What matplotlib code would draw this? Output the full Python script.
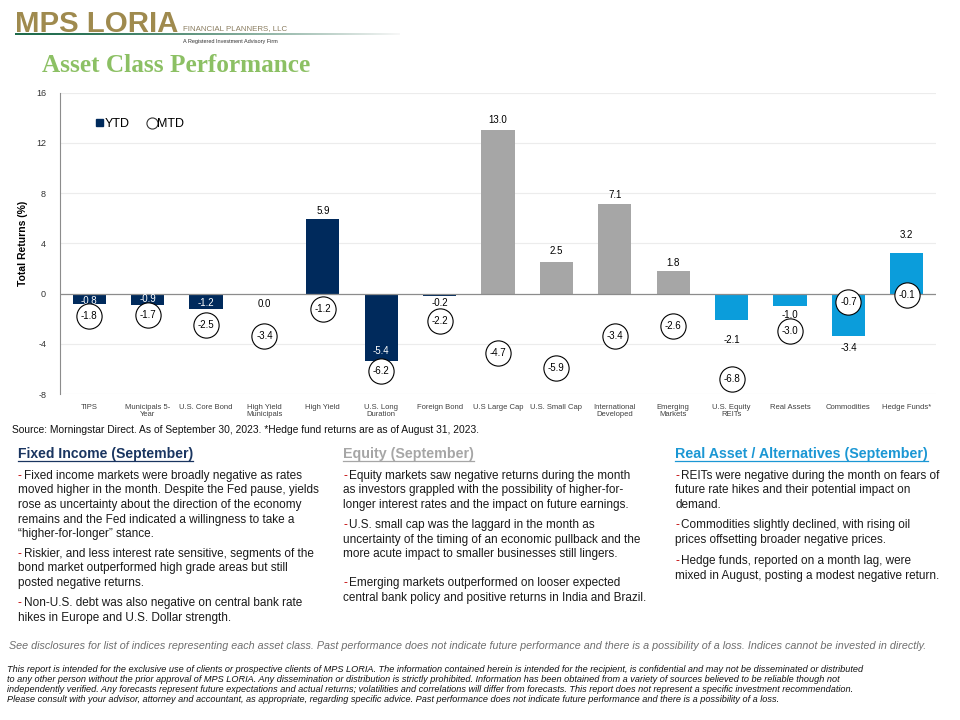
import matplotlib
matplotlib.use("Agg")
import matplotlib.pyplot as plt
from matplotlib.lines import Line2D
from matplotlib.patches import Patch
import numpy as np

plt.rcParams["font.family"] = ["Liberation Sans", "DejaVu Sans"]

CATEGORIES = ["TIPS", "Municipals 5-\nYear", "U.S. Core Bond", "High Yield\nMunicipals",
              "High Yield", "U.S. Long\nDuration", "Foreign Bond", "U.S Large Cap",
              "U.S. Small Cap", "International\nDeveloped", "Emerging\nMarkets",
              "U.S. Equity\nREITs", "Real Assets", "Commodities", "Hedge Funds*"]
YTD = [-0.8, -0.9, -1.2, 0.0, 5.9, -5.4, -0.2, 13.0, 2.5, 7.1, 1.8, -2.1, -1.0, -3.4, 3.2]
MTD = [-1.8, -1.7, -2.5, -3.4, -1.2, -6.2, -2.2, -4.7, -5.9, -3.4, -2.6, -6.8, -3.0, -0.7, -0.1]
GROUPS = ["fixed"] * 7 + ["equity"] * 4 + ["real"] * 4
Y_TICKS = [-8, -4, 0, 4, 8, 12, 16]

NAVY = "#002a5c"
GRAY = "#a6a6a6"
BLUE = "#0b9ddb"
GROUP_COLORS = {"fixed": NAVY, "equity": GRAY, "real": BLUE}

# label shift (pixels) from bar end, + means further out from the bar end
LABEL_SHIFT = [-3, -6, -6, 10, 8, -10, 7, 10, 11, 9, 8, 20, 9, 12, 18]

W, H = 960, 720
fig = plt.figure(figsize=(9.6, 7.2), dpi=100)


def fx(px):
    return px / W


def fy(py):
    return 1 - py / H


texts_fit = []  # (text, target width px, max fontsize)

# ---- header / logo
grad = fig.add_axes([fx(15), fy(35), fx(385), 2.2 / H])
g = np.linspace(0, 1, 256)
rgba = np.zeros((1, 256, 4))
rgba[0, :, 0] = 0.12 + 0.85 * g ** 1.5
rgba[0, :, 1] = 0.42 + 0.55 * g ** 1.5
rgba[0, :, 2] = 0.30 + 0.67 * g ** 1.5
rgba[0, :, 3] = 1.0
grad.imshow(rgba, aspect="auto")
grad.axis("off")

logo = fig.text(fx(15), fy(32), "MPS LORIA", fontsize=20, fontweight="bold", color="#9f8a4e",
                va="baseline", ha="left")
texts_fit.append((logo, 163, 30))
fp = fig.text(fx(183), fy(29), "FINANCIAL PLANNERS, LLC", fontsize=6.3, color="#8a7d60",
              va="center", ha="left")
texts_fit.append((fp, 104, 9))
fig.text(fx(183), fy(42), "A Registered Investment Advisory Firm", fontsize=4.0,
         color="#333333", va="center", ha="left")
title = fig.text(fx(42), fy(66), "Asset Class Performance", fontsize=18, fontweight="bold",
                 color="#8cc064", family="Liberation Serif", va="center", ha="left")
texts_fit.append((title, 268, 22))

# ---- chart
ax = fig.add_axes([fx(60), fy(394), fx(936 - 60), (394 - 92.5) / H])
x = np.arange(len(CATEGORIES))
colors = [GROUP_COLORS[g] for g in GROUPS]
ax.bar(x, YTD, width=0.57, color=colors, zorder=2)

for i, (v, m) in enumerate(zip(YTD, MTD)):
    inside = GROUPS[i] == "fixed" and v < -0.5
    sign = 1 if v > 0 else -1
    shift = LABEL_SHIFT[i] * sign
    ax.annotate(f"{v:.1f}", (i, v), xytext=(0, shift), textcoords="offset pixels",
                ha="center", va="center", fontsize=7,
                color="white" if inside else "black", zorder=4)
    ax.scatter([i], [m], s=330, facecolor="white", edgecolor="black", linewidth=0.8, zorder=5)
    ax.text(i, m, f"{m:.1f}", ha="center", va="center", fontsize=7, zorder=6)

ax.set_xlim(-0.5, 14.5)
ax.set_ylim(-8, 16)
ax.set_yticks(Y_TICKS)
ax.set_yticklabels([str(t) for t in Y_TICKS])
ax.set_xticks(x)
ax.set_xticklabels(CATEGORIES, fontsize=5.5, color="#404040", linespacing=1.1)
ax.tick_params(axis="both", length=0)
ax.tick_params(axis="y", labelsize=6.5, pad=10, colors="#333333")
ax.tick_params(axis="x", pad=7)
for t in Y_TICKS:
    if t != 0:
        ax.axhline(t, color="#ececec", lw=0.8, zorder=0)
ax.axhline(0, color="#8c8c8c", lw=0.9, zorder=3)
for s in ["top", "right", "bottom"]:
    ax.spines[s].set_visible(False)
ax.spines["left"].set_color("#8c8c8c")
ax.spines["left"].set_linewidth(0.8)
ax.set_ylabel("Total Returns (%)", fontsize=7.5, fontweight="bold", labelpad=6)

handles = [Patch(facecolor=NAVY, edgecolor=NAVY),
           Line2D([], [], marker="o", ls="", mfc="white", mec="#333333", ms=8, mew=0.8)]
ax.legend(handles, ["YTD", "MTD"], loc="center left", bbox_to_anchor=(0.028, 0.896),
          ncol=2, frameon=False, fontsize=9, handlelength=0.55, handleheight=0.55,
          handletextpad=0.15, columnspacing=1.5)

# ---- source and commentary
src = fig.text(fx(12), fy(430), "Source: Morningstar Direct. As of September 30, 2023. "
               "*Hedge fund returns are as of August 31, 2023.", fontsize=6.5,
               va="center", ha="left", color="#111111")
texts_fit.append((src, 466, 8))

HEADERS = ["Fixed Income (September)", "Equity (September)", "Real Asset / Alternatives (September)"]
HEADER_COLORS = ["#1a3560", "#a6a6a6", "#1b97d4"]
HEADER_WIDTH = [175, 131, 252]
COL_X = [18, 343, 675]
PARAGRAPHS = [
    [(476, ["Fixed income markets were broadly negative as rates",
            "moved higher in the month. Despite the Fed pause, yields",
            "rose as uncertainty about the direction of the economy",
            "remains and the Fed indicated a willingness to take a",
            "\u201chigher-for-longer\u201d stance."]),
     (554, ["Riskier, and less interest rate sensitive, segments of the",
            "bond market outperformed high grade areas but still",
            "posted negative returns."]),
     (603, ["Non-U.S. debt was also negative on central bank rate",
            "hikes in Europe and U.S. Dollar strength."])],
    [(476, ["Equity markets saw negative returns during the month",
            "as investors grappled with the possibility of higher-for-",
            "longer interest rates and the impact on future earnings."]),
     (525, ["U.S. small cap was the laggard in the month as",
            "uncertainty of the timing of an economic pullback and the",
            "more acute impact to smaller businesses still lingers."]),
     (583, ["Emerging markets outperformed on looser expected",
            "central bank policy and positive returns in India and Brazil."])],
    [(476, ["REITs were negative during the month on fears of",
            "future rate hikes and their potential impact on",
            "demand."]),
     (525, ["Commodities slightly declined, with rising oil",
            "prices offsetting broader negative prices."]),
     (561, ["Hedge funds, reported on a month lag, were",
            "mixed in August, posting a modest negative return."])],
]

header_objs = []
for hx, head, hc, hw, paras in zip(COL_X, HEADERS, HEADER_COLORS, HEADER_WIDTH, PARAGRAPHS):
    h = fig.text(fx(hx), fy(454), head, fontsize=9.5, fontweight="bold", color=hc,
                 va="center", ha="left")
    header_objs.append((h, hc))
    texts_fit.append((h, hw, 11))
    for y0, lines in paras:
        fig.text(fx(hx), fy(y0), "-", fontsize=8.5, color="#c00000", va="center", ha="left")
        for k, line in enumerate(lines):
            xx = hx + 6 if k == 0 else hx
            fig.text(fx(xx), fy(y0 + k * 14.5), line, fontsize=8.5, color="#1a1a1a",
                     va="center", ha="left")

disc = fig.text(fx(9), fy(646), "See disclosures for list of indices representing each asset class. "
                "Past performance does not indicate future performance and there is a possibility "
                "of a loss. Indices cannot be invested in directly.", fontsize=7.8,
                style="italic", color="#6e6e6e", va="center", ha="left")
texts_fit.append((disc, 916, 9))

FOOTER = [("This report is intended for the exclusive use of clients or prospective clients of MPS LORIA. "
           "The information contained herein is intended for the recipient, is confidential and may not "
           "be disseminated or distributed", 918),
          ("to any other person without the prior approval of MPS LORIA. Any dissemination or distribution "
           "is strictly prohibited. Information has been obtained from a variety of sources believed to be "
           "reliable though not", 898),
          ("independently verified. Any forecasts represent future expectations and actual returns; "
           "volatilities and correlations will differ from forecasts. This report does not represent a "
           "specific investment recommendation.", 918),
          ("Please consult with your advisor, attorney and accountant, as appropriate, regarding specific "
           "advice. Past performance does not indicate future performance and there is a possibility of a loss.", 828)]
for k, (line, wpx) in enumerate(FOOTER):
    t = fig.text(fx(7), fy(669 + k * 10.2), line, fontsize=6.6, style="italic",
                 color="#111111", va="center", ha="left")
    texts_fit.append((t, wpx, 6.6))

# fit widths and underline headers
fig.canvas.draw()
r = fig.canvas.get_renderer()
for t, wpx, fmax in texts_fit:
    bb = t.get_window_extent(r)
    t.set_fontsize(min(fmax, t.get_fontsize() * wpx / bb.width))
fig.canvas.draw()
for h, hc in header_objs:
    bb = h.get_window_extent(r)
    yy = bb.y0 - 0.3
    fig.add_artist(Line2D([bb.x0 / W, bb.x1 / W], [yy / H, yy / H], color=hc, lw=0.9))

fig.savefig("out.png", dpi=100)
